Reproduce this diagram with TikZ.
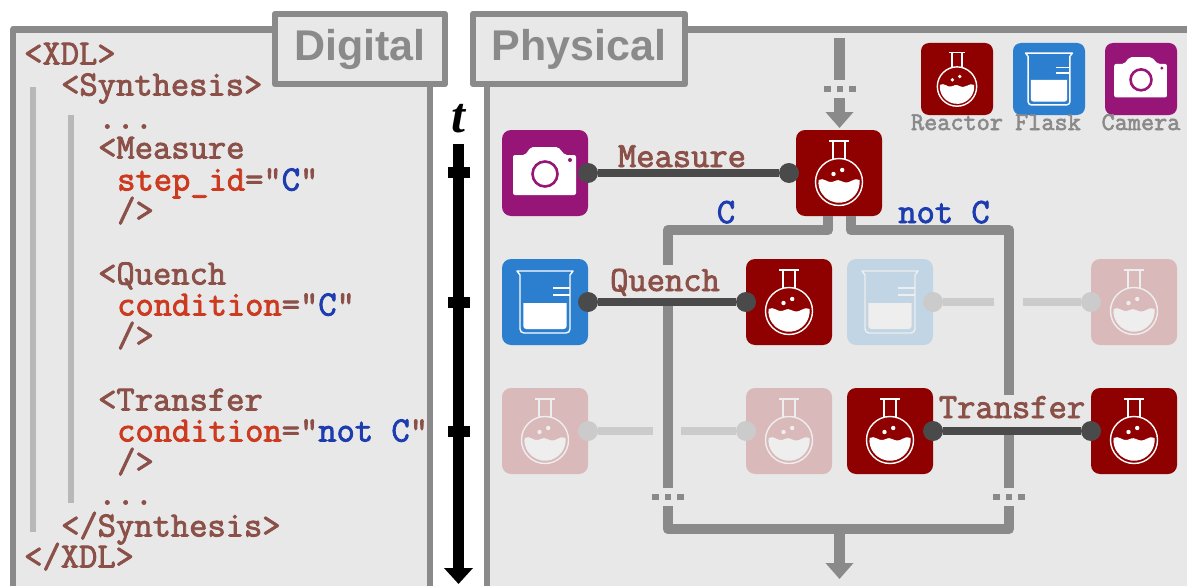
\documentclass[tikz,border=0pt]{standalone}
\usepackage{fontspec}
\setmainfont{Liberation Sans}
\setmonofont{Latin Modern Mono}[FakeBold=2.4]
\newfontfamily\timefont{Liberation Serif}
\usetikzlibrary{arrows.meta}
\definecolor{panelgray}{HTML}{E8E8E8}
\definecolor{framegray}{HTML}{8A8A8A}
\definecolor{barsgray}{HTML}{B8B8B8}
\definecolor{fadegray}{HTML}{CBCBCB}
\definecolor{linkdark}{HTML}{4A4A4A}
\definecolor{xdlbrown}{HTML}{8B5048}
\definecolor{xdlred}{HTML}{CC3A1F}
\definecolor{xdlblue}{HTML}{1C3CB0}
\definecolor{reactorred}{HTML}{8F0000}
\definecolor{flaskblue}{HTML}{2B7FCE}
\definecolor{camerapurple}{HTML}{981578}
\definecolor{reactorfade}{HTML}{D9B9B9}
\definecolor{flaskfade}{HTML}{C2D5E4}
\definecolor{iconfade}{HTML}{EEEEEE}
\newcommand{\xdlfont}{\fontsize{35.5}{36}\selectfont\ttfamily}
\tikzset{
    pics/flaskicon/.style={code={
        \draw[line width=1.4pt] (-10,-32) -- (10,-32);
        \draw[line width=1.4pt] (-6,-32) -- (-6,-13);
        \draw[line width=1.4pt] (6,-32) -- (6,-13);
        \draw[line width=1.4pt] (0,9) circle[radius=23.5];
        \fill (-20.5,7) .. controls (-15,4) and (-12,10) .. (-7,9)
            .. controls (-3,8) and (-2,6) .. (2,8)
            .. controls (6,10) and (9,10) .. (12,8)
            .. controls (15,6) and (17,6) .. (20.5,7)
            arc[start angle=-6, end angle=186, radius=20.6];
        \fill (-5.5,1) circle[radius=2.2];
        \fill (3.2,-3) circle[radius=2.2];
    }},
    pics/beakericon/.style={code={
        \draw[line width=1.4pt, line join=round] (-28,-31) -- (28,-31) -- (25,-27) -- (25,27)
            arc[start angle=0, end angle=90, radius=4] -- (-21,31)
            arc[start angle=90, end angle=180, radius=4] -- (-25,-27) -- cycle;
        \fill (-21.7,1) -- (21.7,1) -- (21.7,24) arc[start angle=0, end angle=90, radius=3]
            -- (-18.7,27) arc[start angle=90, end angle=180, radius=3] -- cycle;
        \draw[line width=1.4pt] (8,-14) -- (25,-14);
        \draw[line width=1.4pt] (8,-7) -- (25,-7);
    }},
    pics/cameraicon/.style={code={
        \fill[rounded corners=2pt] (-32,-18) -- (-20,-18) -- (-14,-26) -- (13,-26)
            -- (20,-18) -- (31,-18) -- (31,22) -- (-32,22) -- cycle;
        \draw[camerapurple, line width=2.6pt] (0,1) circle[radius=12.5];
        \fill[camerapurple] (25,-13) circle[radius=2];
    }},
    pics/threedots/.style={code={
        \foreach \dx in {-12.5,0,12.5}
            \fill[framegray] (\dx-3.2,-3.2) rectangle (\dx+3.2,3.2);
    }},
}
\begin{document}
\begin{tikzpicture}[
    x=1pt, y=-1pt,
    panel/.style={draw=framegray, fill=panelgray, line width=6.5pt, line join=round},
    tabbox/.style={panel, minimum width=170pt, minimum height=70pt, inner sep=0pt,
        text=framegray, font=\fontsize{43}{43}\selectfont\bfseries},
    xdl/.style={anchor=base west, inner sep=0pt, text=xdlbrown, font=\xdlfont},
    linklabel/.style={anchor=base, inner sep=0pt, text=xdlbrown, font=\xdlfont},
    branchlabel/.style={anchor=base, inner sep=0pt, text=xdlblue, font=\xdlfont},
    legendlabel/.style={anchor=base, inner sep=0pt, text=framegray,
        font=\fontsize{25.5}{26}\selectfont\ttfamily},
    device/.style={rectangle, rounded corners=9pt, minimum size=86pt, inner sep=0pt},
    legenddevice/.style={device, minimum size=72pt, rounded corners=8pt},
    bar/.style={barsgray, line width=6.5pt},
    flow/.style={framegray, line width=10.5pt},
    flowend/.style={flow, -{Triangle[width=27pt,length=16pt]}},
    tick/.style={rectangle, fill=black, minimum width=22pt, minimum height=11pt, inner sep=0pt},
    link/.style={linkdark, line width=7.5pt},
    fadelink/.style={fadegray, line width=7.5pt},
    linkdot/.style={circle, fill=linkdark, minimum size=20pt, inner sep=0pt},
    fadedot/.style={circle, fill=fadegray, minimum size=20pt, inner sep=0pt}
]
    \useasboundingbox (0,0) rectangle (1187,586);
    \clip (0,0) rectangle (1187,586);

    % panels
    \draw[panel] (13,29.5) rectangle (430,600);
    \draw[panel] (487,29.5) rectangle (1200,600);
    \node[tabbox] (digital) at (360,49) {Digital};
    \node[tabbox, minimum width=212pt] (physical) at (579,49) {Physical};

    % code
    \coordinate (outerA) at (33,87);
    \coordinate (outerB) at (33,532);
    \coordinate (innerA) at (71,115);
    \coordinate (innerB) at (71,503);
    \draw[bar] (outerA) -- (outerB);
    \draw[bar] (innerA) -- (innerB);
    \node[xdl] (l1) at (24,64.5) {<XDL>};
    \node[xdl] (l2) at (61,95.5) {<Synthesis>};
    \node[xdl] (l3) at (98,128.5) {...};
    \node[xdl] (l4) at (98,158.5) {<Measure};
    \node[xdl] (l5) at (117,190.5) {\textcolor{xdlred}{step\_id}="\textcolor{xdlblue}{C}"};
    \node[xdl] (l6) at (117,221.5) {/>};
    \node[xdl] (l7) at (98,284.5) {<Quench};
    \node[xdl] (l8) at (117,315.5) {\textcolor{xdlred}{condition}="\textcolor{xdlblue}{C}"};
    \node[xdl] (l9) at (117,346.5) {/>};
    \node[xdl] (l10) at (98,410.5) {<Transfer};
    \node[xdl] (l11) at (117,441.5) {\textcolor{xdlred}{condition}="\textcolor{xdlblue}{not C}"};
    \node[xdl] (l12) at (117,472.5) {/>};
    \node[xdl] (l13) at (98,504.5) {...};
    \node[xdl] (l14) at (61,536.5) {</Synthesis>};
    \node[xdl] (l15) at (24,567.5) {</XDL>};

    % time axis
    \node[anchor=base, inner sep=0pt, font=\fontsize{50}{50}\selectfont\timefont\bfseries\itshape] (tlabel) at (458,132) {t};
    \coordinate (tA) at (458.5,144);
    \coordinate (tB) at (458.5,584);
    \draw[line width=11pt, -{Triangle[width=28pt,length=16pt]}] (tA) -- (tB);
    \node[tick] (t1) at (458.5,172) {};
    \node[tick] (t2) at (458.5,302) {};
    \node[tick] (t3) at (458.5,431) {};

    % legend
    \node[legenddevice, fill=reactorred] (legreactor) at (957,79) {};
    \node[legenddevice, fill=flaskblue] (legflask) at (1049,79) {};
    \node[legenddevice, fill=camerapurple] (legcamera) at (1141,79) {};
    \pic[white, scale=.837] at (legreactor) {flaskicon};
    \pic[white, scale=.837] at (legflask) {beakericon};
    \pic[white, scale=.837] at (legcamera) {cameraicon};
    \node[legendlabel] (txtreactor) at (957,130) {Reactor};
    \node[legendlabel] (txtflask) at (1048,130) {Flask};
    \node[legendlabel] (txtcamera) at (1141,130) {Camera};

    % devices
    \node[device, fill=camerapurple] (cam1) at (545,173) {};
    \node[device, fill=reactorred] (main) at (839,173) {};
    \node[device, fill=flaskblue] (flask1) at (545,302) {};
    \node[device, fill=reactorred] (quench) at (789,302) {};
    \node[device, fill=flaskfade] (flask2) at (890,302) {};
    \node[device, fill=reactorfade] (fade1) at (1134,302) {};
    \node[device, fill=reactorfade] (fade2) at (545,431) {};
    \node[device, fill=reactorfade] (fade3) at (789,431) {};
    \node[device, fill=reactorred] (source) at (890,431) {};
    \node[device, fill=reactorred] (target) at (1134,431) {};
    \pic[white] at (cam1) {cameraicon};
    \pic[white] at (main) {flaskicon};
    \pic[white] at (flask1) {beakericon};
    \pic[white] at (quench) {flaskicon};
    \pic[iconfade] at (flask2) {beakericon};
    \pic[iconfade] at (fade1) {flaskicon};
    \pic[iconfade] at (fade2) {flaskicon};
    \pic[iconfade] at (fade3) {flaskicon};
    \pic[white] at (source) {flaskicon};
    \pic[white] at (target) {flaskicon};

    % process flow
    \coordinate (inA) at (839.5,38);
    \coordinate (inB) at (839.5,80);
    \coordinate (inC) at (839.5,98);
    \coordinate (inTip) at (839.5,128);
    \draw[flow] (inA) -- (inB);
    \draw[flowend] (inC) -- (inTip);
    \pic at (840,89) {threedots};
    \coordinate (leftA) at (828,216);
    \coordinate (leftB) at (668,230);
    \coordinate (leftC) at (668,265);
    \coordinate (leftD) at (668,305);
    \coordinate (leftE) at (668,488);
    \coordinate (leftF) at (668,506);
    \coordinate (rightA) at (851,216);
    \coordinate (rightB) at (1009,230);
    \coordinate (rightC) at (1009,395);
    \coordinate (rightD) at (1009,435);
    \coordinate (rightE) at (1009,488);
    \coordinate (rightF) at (1009,506);
    \coordinate (outA) at (839.5,529);
    \coordinate (outB) at (839.5,579);
    \draw[flow, line join=round] (leftA) |- (leftB) -- (leftC);
    \draw[flow, line join=round] (rightA) |- (rightB) -- (rightC);
    \draw[flow] (leftD) -- (leftE);
    \draw[flow] (rightD) -- (rightE);
    \pic at (668,497) {threedots};
    \pic at (1009,497) {threedots};
    \draw[flow, line join=round] (leftF) |- (outA) -| (rightF);
    \draw[flowend] (outA) -- (outB);

    % faded steps
    \node[fadedot] (d1) at (933,302) {};
    \node[fadedot] (d2) at (1091,302) {};
    \node[fadedot] (d3) at (588,431) {};
    \node[fadedot] (d4) at (746,431) {};
    \coordinate (gapA) at (994,302);
    \coordinate (gapB) at (1023,302);
    \coordinate (gapC) at (653,431);
    \coordinate (gapD) at (681,431);
    \draw[fadelink] (d1) -- (gapA);
    \draw[fadelink] (gapB) -- (d2);
    \draw[fadelink] (d3) -- (gapC);
    \draw[fadelink] (gapD) -- (d4);

    % active steps
    \node[linkdot] (m1) at (588,173) {};
    \node[linkdot] (m2) at (789,173) {};
    \node[linkdot] (q1) at (588,302) {};
    \node[linkdot] (q2) at (746,302) {};
    \node[linkdot] (x1) at (933,431) {};
    \node[linkdot] (x2) at (1091,431) {};
    \draw[link] (m1) -- (m2);
    \draw[link] (q1) -- (q2);
    \draw[link] (x1) -- (x2);
    \node[linklabel] (measure) at (682,167) {Measure};
    \node[linklabel] (quenchtxt) at (665,291) {Quench};
    \node[linklabel] (transfer) at (1012,418) {Transfer};
    \node[branchlabel] (ctxt) at (726,223) {C};
    \node[branchlabel] (notctxt) at (944,223) {not C};
\end{tikzpicture}
\end{document}
